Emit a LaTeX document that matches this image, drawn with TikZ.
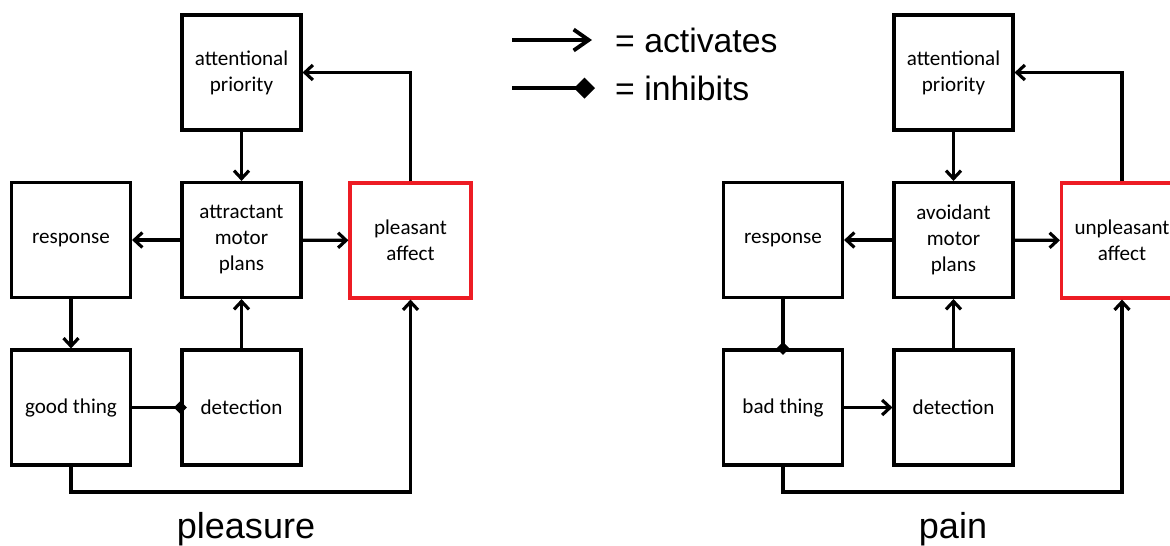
\documentclass[tikz,border=0pt]{standalone}
\usepackage{fontspec}
\setmainfont{Carlito}
\newfontfamily\legendfont{Liberation Sans}
\usetikzlibrary{arrows.meta}
\definecolor{affectred}{RGB}{237, 28, 36}

\begin{document}
\begin{tikzpicture}[
        box/.style      = {draw=black, line width=1.8pt, minimum width=2.38cm, minimum height=2.30cm,
                           inner sep=0pt, align=center, font=\fontsize{12}{14.8}\selectfont},
        affectbox/.style= {box, draw=affectred, minimum width=2.42cm},
        activ/.style    = {line width=1.8pt, -{Straight Barb[length=0.16cm, width=0.30cm, line width=1.8pt]}},
        inhib/.style    = {line width=1.8pt, -{Diamond[length=0.26cm, width=0.26cm]}, shorten >=-0.13cm},
        caption/.style  = {font=\legendfont\fontsize{20.5}{24}\selectfont}
    ]
    \useasboundingbox (0,0) rectangle (23.4,-10.9);

    % pleasure
    \node[box]       (attnL)   at ( 4.83, -1.45) {attentional\\priority};
    \node[box]       (respL)   at ( 1.42, -4.80) {response};
    \node[box]       (motorL)  at ( 4.83, -4.80) {attractant\\motor\\plans};
    \node[affectbox] (affectL) at ( 8.21, -4.81) {pleasant\\affect};
    \node[box]       (thingL)  at ( 1.42, -8.15) {good thing};
    \node[box]       (detL)    at ( 4.83, -8.15) {detection};
    \coordinate      (lowL)    at ( 0.00, -9.84);
    \node[caption]   (pleasure) at ( 4.92, -10.58) {pleasure};

    \draw[activ] (attnL)   -- (motorL);
    \draw[activ] (motorL)  -- (respL);
    \draw[activ] (motorL)  -- (affectL);
    \draw[activ] (respL)   -- (thingL);
    \draw[activ] (detL)    -- (motorL);
    \draw[inhib] (thingL)  -- (detL);
    \draw[activ] (thingL.south) -- (thingL.south |- lowL) -| (affectL.south);
    \draw[activ] (affectL.north) |- (attnL.east);

    % pain
    \node[box]       (attnR)   at (19.07, -1.45) {attentional\\priority};
    \node[box]       (respR)   at (15.66, -4.80) {response};
    \node[box]       (motorR)  at (19.07, -4.80) {avoidant\\motor\\plans};
    \node[affectbox] (affectR) at (22.44, -4.81) {unpleasant\\affect};
    \node[box]       (thingR)  at (15.66, -8.15) {bad thing};
    \node[box]       (detR)    at (19.07, -8.15) {detection};
    \coordinate      (lowR)    at (14.24, -9.84);
    \node[caption]   (pain)    at (19.06, -10.58) {pain};

    \draw[activ] (attnR)   -- (motorR);
    \draw[activ] (motorR)  -- (respR);
    \draw[activ] (motorR)  -- (affectR);
    \draw[inhib] (respR)   -- (thingR);
    \draw[activ] (thingR)  -- (detR);
    \draw[activ] (detR)    -- (motorR);
    \draw[activ] (thingR.south) -- (thingR.south |- lowR) -| (affectR.south);
    \draw[activ] (affectR.north) |- (attnR.east);

    % legend
    \coordinate (actA) at (10.24, -0.80);
    \coordinate (actB) at (11.84, -0.80);
    \coordinate (inhA) at (10.24, -1.76);
    \coordinate (inhB) at (11.90, -1.76);
    \draw[line width=2.2pt, -{Straight Barb[length=0.30cm, width=0.42cm, line width=2.2pt]}] (actA) -- (actB);
    \draw[line width=2.2pt, -{Diamond[length=0.42cm, width=0.42cm]}] (inhA) -- (inhB);
    \node[caption, font=\legendfont\fontsize{19.2}{23}\selectfont, anchor=west] (activates) at (12.18, -0.80) {= activates};
    \node[caption, font=\legendfont\fontsize{19.2}{23}\selectfont, anchor=west] (inhibits)  at (12.18, -1.76) {= inhibits};
\end{tikzpicture}
\end{document}
